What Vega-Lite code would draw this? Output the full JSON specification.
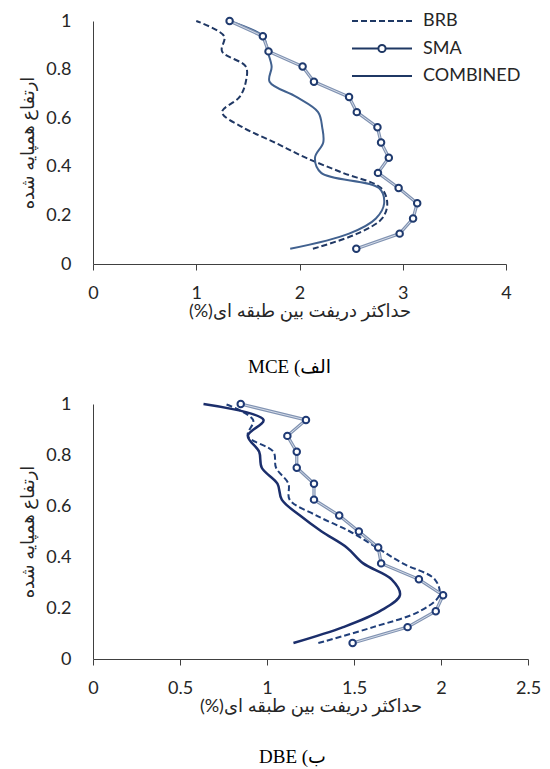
{
  "$schema": "https://vega.github.io/schema/vega-lite/v6.json",
  "padding": {"left": 19, "top": 12, "right": 2, "bottom": 0},
  "spacing": 18,
  "config": {
    "view": {"stroke": null},
    "axis": {"grid": false, "labelFlush": false, "domainColor": "#404040", "tickColor": "#404040", "labelColor": "#262626", "labelFont": "Lato", "labelFontSize": 18, "titleFont": "Lato, DejaVu Sans", "titleFontSize": 18, "titleFontWeight": "normal", "titleColor": "#262626"},
    "legend": {"labelFont": "Lato", "labelColor": "#262626", "symbolStrokeColor": "#1f3864", "symbolFillColor": "transparent", "symbolStrokeWidth": 2, "symbolSize": 144, "labelOffset": 8, "title": null}
  },
  "datasets": {
    "mce": [
      {"series": "SMA", "h": 1, "drift": 1.323}, {"series": "SMA", "h": 0.9375, "drift": 1.645}, {"series": "SMA", "h": 0.875, "drift": 1.70}, {"series": "SMA", "h": 0.8125, "drift": 2.03},
      {"series": "SMA", "h": 0.75, "drift": 2.14}, {"series": "SMA", "h": 0.6875, "drift": 2.48}, {"series": "SMA", "h": 0.625, "drift": 2.555}, {"series": "SMA", "h": 0.5625, "drift": 2.755},
      {"series": "SMA", "h": 0.5, "drift": 2.79}, {"series": "SMA", "h": 0.4375, "drift": 2.865}, {"series": "SMA", "h": 0.375, "drift": 2.76}, {"series": "SMA", "h": 0.3125, "drift": 2.96},
      {"series": "SMA", "h": 0.25, "drift": 3.14}, {"series": "SMA", "h": 0.1875, "drift": 3.10}, {"series": "SMA", "h": 0.125, "drift": 2.97}, {"series": "SMA", "h": 0.0625, "drift": 2.55},
      {"series": "BRB", "h": 1, "drift": 1.0}, {"series": "BRB", "h": 0.9375, "drift": 1.27}, {"series": "BRB", "h": 0.875, "drift": 1.25}, {"series": "BRB", "h": 0.8125, "drift": 1.48},
      {"series": "BRB", "h": 0.75, "drift": 1.48}, {"series": "BRB", "h": 0.6875, "drift": 1.42}, {"series": "BRB", "h": 0.625, "drift": 1.25}, {"series": "BRB", "h": 0.5625, "drift": 1.45},
      {"series": "BRB", "h": 0.5, "drift": 1.76}, {"series": "BRB", "h": 0.4375, "drift": 2.06}, {"series": "BRB", "h": 0.375, "drift": 2.42}, {"series": "BRB", "h": 0.3125, "drift": 2.79},
      {"series": "BRB", "h": 0.25, "drift": 2.85}, {"series": "BRB", "h": 0.1875, "drift": 2.80}, {"series": "BRB", "h": 0.125, "drift": 2.56}, {"series": "BRB", "h": 0.0625, "drift": 2.13},
      {"series": "COMBINED", "h": 1, "drift": 1.32}, {"series": "COMBINED", "h": 0.9375, "drift": 1.645}, {"series": "COMBINED", "h": 0.875, "drift": 1.69}, {"series": "COMBINED", "h": 0.8125, "drift": 1.73},
      {"series": "COMBINED", "h": 0.75, "drift": 1.71}, {"series": "COMBINED", "h": 0.6875, "drift": 1.97}, {"series": "COMBINED", "h": 0.625, "drift": 2.18}, {"series": "COMBINED", "h": 0.5625, "drift": 2.22},
      {"series": "COMBINED", "h": 0.5, "drift": 2.23}, {"series": "COMBINED", "h": 0.4375, "drift": 2.15}, {"series": "COMBINED", "h": 0.375, "drift": 2.21}, {"series": "COMBINED", "h": 0.3125, "drift": 2.77},
      {"series": "COMBINED", "h": 0.25, "drift": 2.82}, {"series": "COMBINED", "h": 0.1875, "drift": 2.74}, {"series": "COMBINED", "h": 0.125, "drift": 2.48}, {"series": "COMBINED", "h": 0.0625, "drift": 1.91}
    ],
    "dbe": [
      {"series": "SMA", "h": 1, "drift": 0.849}, {"series": "SMA", "h": 0.9375, "drift": 1.224}, {"series": "SMA", "h": 0.875, "drift": 1.117}, {"series": "SMA", "h": 0.8125, "drift": 1.171},
      {"series": "SMA", "h": 0.75, "drift": 1.171}, {"series": "SMA", "h": 0.6875, "drift": 1.27}, {"series": "SMA", "h": 0.625, "drift": 1.27}, {"series": "SMA", "h": 0.5625, "drift": 1.415},
      {"series": "SMA", "h": 0.5, "drift": 1.528}, {"series": "SMA", "h": 0.4375, "drift": 1.639}, {"series": "SMA", "h": 0.375, "drift": 1.656}, {"series": "SMA", "h": 0.3125, "drift": 1.873},
      {"series": "SMA", "h": 0.25, "drift": 2.012}, {"series": "SMA", "h": 0.1875, "drift": 1.970}, {"series": "SMA", "h": 0.125, "drift": 1.808}, {"series": "SMA", "h": 0.0625, "drift": 1.492},
      {"series": "BRB", "h": 1, "drift": 0.76}, {"series": "BRB", "h": 0.9375, "drift": 0.92}, {"series": "BRB", "h": 0.875, "drift": 0.89}, {"series": "BRB", "h": 0.8125, "drift": 1.037},
      {"series": "BRB", "h": 0.75, "drift": 1.052}, {"series": "BRB", "h": 0.6875, "drift": 1.123}, {"series": "BRB", "h": 0.625, "drift": 1.13}, {"series": "BRB", "h": 0.5625, "drift": 1.285},
      {"series": "BRB", "h": 0.5, "drift": 1.477}, {"series": "BRB", "h": 0.4375, "drift": 1.63}, {"series": "BRB", "h": 0.375, "drift": 1.78}, {"series": "BRB", "h": 0.3125, "drift": 1.964},
      {"series": "BRB", "h": 0.25, "drift": 1.99}, {"series": "BRB", "h": 0.1875, "drift": 1.878}, {"series": "BRB", "h": 0.125, "drift": 1.61}, {"series": "BRB", "h": 0.0625, "drift": 1.295},
      {"series": "COMBINED", "h": 1, "drift": 0.635}, {"series": "COMBINED", "h": 0.9375, "drift": 0.98}, {"series": "COMBINED", "h": 0.875, "drift": 0.89}, {"series": "COMBINED", "h": 0.8125, "drift": 0.955},
      {"series": "COMBINED", "h": 0.75, "drift": 0.97}, {"series": "COMBINED", "h": 0.6875, "drift": 1.06}, {"series": "COMBINED", "h": 0.625, "drift": 1.085}, {"series": "COMBINED", "h": 0.5625, "drift": 1.19},
      {"series": "COMBINED", "h": 0.5, "drift": 1.314}, {"series": "COMBINED", "h": 0.4375, "drift": 1.458}, {"series": "COMBINED", "h": 0.375, "drift": 1.553}, {"series": "COMBINED", "h": 0.3125, "drift": 1.716},
      {"series": "COMBINED", "h": 0.25, "drift": 1.764}, {"series": "COMBINED", "h": 0.1875, "drift": 1.649}, {"series": "COMBINED", "h": 0.125, "drift": 1.438}, {"series": "COMBINED", "h": 0.0625, "drift": 1.152}
    ]
  },
  "vconcat": [
    {
      "width": 413, "height": 243,
      "data": {"name": "mce"},
      "title": {"text": "MCE (الف", "orient": "bottom", "font": "Liberation Serif, DejaVu Sans", "fontSize": 19, "fontWeight": "normal", "color": "#000000", "offset": 38, "anchor": "middle", "dx": -10},
      "encoding": {
        "x": {"field": "drift", "type": "quantitative", "scale": {"domain": [0, 4], "nice": false}, "axis": {"title": "(%)حداکثر دریفت بین طبقه ای", "values": [0, 1, 2, 3, 4], "format": "~g", "tickSize": 6, "labelPadding": 14, "titlePadding": 0}},
        "y": {"field": "h", "type": "quantitative", "scale": {"domain": [0, 1], "nice": false}, "axis": {"title": "ارتفاع همپایه شده", "values": [0, 0.2, 0.4, 0.6, 0.8, 1], "format": "~g", "ticks": false, "labelPadding": 22, "titlePadding": 8}},
        "order": {"field": "h", "type": "quantitative"}
      },
      "layer": [
        {"transform": [{"filter": "datum.series === 'BRB'"}], "mark": {"type": "line", "stroke": "#203864", "strokeWidth": 2, "strokeDash": [6, 3], "interpolate": "catmull-rom"}},
        {"transform": [{"filter": "datum.series === 'COMBINED'"}], "mark": {"type": "line", "stroke": "#41618f", "strokeWidth": 2, "interpolate": "catmull-rom"}},
        {"transform": [{"filter": "datum.series === 'SMA'"}], "mark": {"type": "line", "stroke": "#8193b2", "strokeWidth": 3.2}},
        {"transform": [{"filter": "datum.series === 'SMA'"}], "mark": {"type": "line", "stroke": "#d4dbe8", "strokeWidth": 1}},
        {"transform": [{"filter": "datum.series === 'SMA'"}], "mark": {"type": "point", "shape": "circle", "filled": true, "fill": "#ffffff", "stroke": "#1f3a6e", "strokeWidth": 2, "size": 42, "opacity": 1}},
        {"mark": {"type": "point", "filled": false, "opacity": 0},
         "encoding": {"shape": {"field": "series", "type": "nominal",
           "scale": {"domain": ["BRB", "SMA", "COMBINED"], "range": ["M-9,0H-8M-7.5,0H-6.5M-6,0H-5M-4.5,0H-3.5M-3,0H-2M-1.5,0H-0.5M0,0H1", "M-9,0H-4.6M-3.4,0H1M-4.6,0A0.6,0.6 0 1,1 -3.4,0A0.6,0.6 0 1,1 -4.6,0", "M-9,0H1"]},
           "legend": {"orient": "none", "legendX": 304, "legendY": -9, "labelFontSize": 18, "rowPadding": 9.5}}}}
      ]
    },
    {
      "width": 435, "height": 255,
      "data": {"name": "dbe"},
      "title": {"text": "DBE (ب", "orient": "bottom", "font": "Liberation Serif, DejaVu Sans", "fontSize": 19, "fontWeight": "normal", "color": "#000000", "offset": 33, "anchor": "middle", "dx": -18},
      "encoding": {
        "x": {"field": "drift", "type": "quantitative", "scale": {"domain": [0, 2.5], "nice": false}, "axis": {"title": "(%)حداکثر دریفت بین طبقه ای", "values": [0, 0.5, 1, 1.5, 2, 2.5], "format": "~g", "tickSize": 6, "labelPadding": 14, "titlePadding": 0}},
        "y": {"field": "h", "type": "quantitative", "scale": {"domain": [0, 1], "nice": false}, "axis": {"title": "ارتفاع همپایه شده", "values": [0, 0.2, 0.4, 0.6, 0.8, 1], "format": "~g", "ticks": false, "labelPadding": 22, "titlePadding": 8}},
        "order": {"field": "h", "type": "quantitative"}
      },
      "layer": [
        {"transform": [{"filter": "datum.series === 'BRB'"}], "mark": {"type": "line", "stroke": "#203f7a", "strokeWidth": 2, "strokeDash": [6, 3], "interpolate": "catmull-rom"}},
        {"transform": [{"filter": "datum.series === 'COMBINED'"}], "mark": {"type": "line", "stroke": "#1b2e6b", "strokeWidth": 2.5, "interpolate": "catmull-rom"}},
        {"transform": [{"filter": "datum.series === 'SMA'"}], "mark": {"type": "line", "stroke": "#8193b2", "strokeWidth": 3.2}},
        {"transform": [{"filter": "datum.series === 'SMA'"}], "mark": {"type": "line", "stroke": "#d4dbe8", "strokeWidth": 1}},
        {"transform": [{"filter": "datum.series === 'SMA'"}], "mark": {"type": "point", "shape": "circle", "filled": true, "fill": "#ffffff", "stroke": "#1f3a75", "strokeWidth": 2, "size": 42, "opacity": 1}},
        {"mark": {"type": "point", "filled": false, "opacity": 0},
         "encoding": {"shape": {"field": "series", "type": "nominal",
           "scale": {"domain": ["BRB", "SMA", "COMBINED"], "range": ["M-9,0H-8M-7.5,0H-6.5M-6,0H-5M-4.5,0H-3.5M-3,0H-2M-1.5,0H-0.5M0,0H1", "M-9,0H-4.6M-3.4,0H1M-4.6,0A0.6,0.6 0 1,1 -3.4,0A0.6,0.6 0 1,1 -4.6,0", "M-9,0H1"]},
           "legend": {"orient": "none", "legendX": 319, "legendY": 2, "labelFontSize": 17, "rowPadding": 26}}}}
      ]
    }
  ]
}
